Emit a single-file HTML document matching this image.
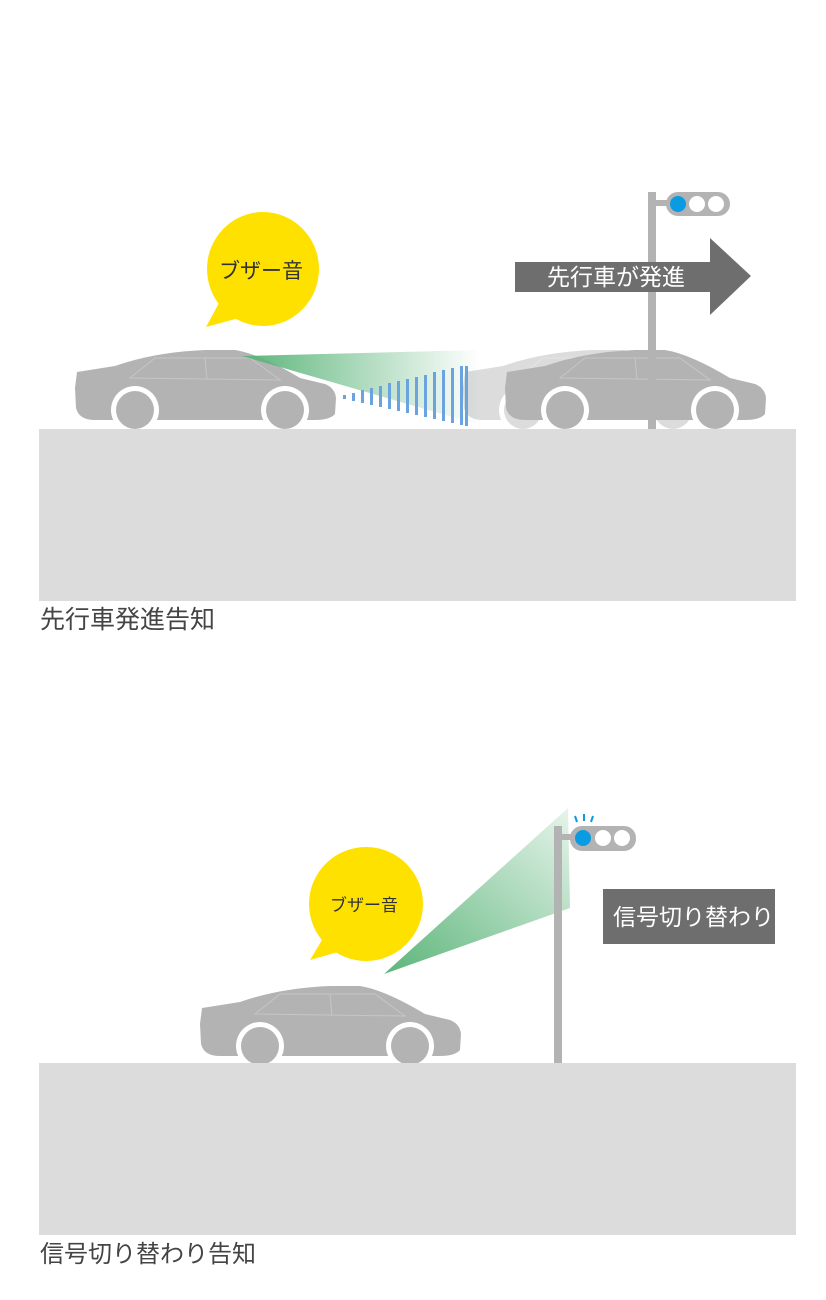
<!DOCTYPE html>
<html><head><meta charset="utf-8"><style>
html,body{margin:0;padding:0;background:#fff;}
svg{display:block}
text{font-family:"Liberation Sans","Noto Sans CJK JP",sans-serif;}
</style></head><body>
<svg width="826" height="1300" viewBox="0 0 826 1300" xmlns="http://www.w3.org/2000/svg">
<defs>
<g id="car">
 <path d="M2,24 L40,18 Q80,4 130,2 L160,2 Q185,6 225,30 L250,36 Q260,40 261,50 L260,66 Q255,72 240,72 L20,72 Q4,72 1,60 L0,40 Z" fill="#b3b3b3"/>
 <circle cx="60" cy="62" r="24" fill="#fff"/><circle cx="60" cy="62" r="19" fill="#b3b3b3"/>
 <circle cx="210" cy="62" r="24" fill="#fff"/><circle cx="210" cy="62" r="19" fill="#b3b3b3"/>
 <path d="M55,30 L80,10 L175,10 L205,32 Z M130,10 L132,32" fill="none" stroke="#c6c6c6" stroke-width="1"/>
</g>
<linearGradient id="g1" x1="0" y1="0" x2="1" y2="0"><stop offset="0" stop-color="#5cb57a"/><stop offset="1" stop-color="#5cb57a" stop-opacity="0"/></linearGradient>
<linearGradient id="g2" x1="0" y1="1" x2="1" y2="0"><stop offset="0" stop-color="#5cb57a"/><stop offset="1" stop-color="#5cb57a" stop-opacity="0.15"/></linearGradient>
</defs>
<!-- panel 1 -->
<rect x="648" y="192" width="8" height="238" fill="#b3b3b3"/>
<rect x="656" y="200" width="12" height="6" fill="#b3b3b3"/>
<rect x="666" y="192" width="64" height="24" rx="12" fill="#b3b3b3"/>
<circle cx="678" cy="204" r="8" fill="#0a9be3"/><circle cx="697" cy="204" r="8" fill="#fff"/><circle cx="716" cy="204" r="8" fill="#fff"/>
<path d="M515,262 L710,262 L710,238 L751,276 L710,315 L710,292 L515,292 Z" fill="#6e6e6e"/>
<text x="547" y="285" font-size="23" fill="#fff">先行車が発進</text>
<ellipse cx="263" cy="269" rx="56" ry="57" fill="#ffe100"/>
<path d="M206,327 L226,290 L250,315 Z" fill="#ffe100"/>
<text x="219" y="278" font-size="21" fill="#333">ブザー音</text>
<g opacity="0.45"><use href="#car" x="463" y="348"/></g>
<use href="#car" x="505" y="348"/>
<rect x="648" y="350" width="8" height="80" fill="#b3b3b3"/>
<use href="#car" x="75" y="348"/>
<path d="M242,356 L480,350 L480,425 Z" fill="url(#g1)"/>
<g fill="#6aa3e0">
<rect x="343" y="395" width="3" height="4"/><rect x="352" y="393" width="3" height="8"/><rect x="361" y="390" width="3" height="13"/><rect x="370" y="388" width="3" height="17"/><rect x="379" y="386" width="3" height="21"/><rect x="388" y="383" width="3" height="26"/><rect x="397" y="381" width="3" height="30"/><rect x="406" y="379" width="3" height="34"/><rect x="415" y="377" width="3" height="38"/><rect x="424" y="375" width="3" height="42"/><rect x="433" y="372" width="3" height="47"/><rect x="442" y="370" width="3" height="51"/><rect x="451" y="368" width="3" height="55"/><rect x="460" y="366" width="3" height="59"/><rect x="465" y="366" width="3" height="60"/>
</g>
<rect x="39" y="429" width="757" height="172" fill="#dcdcdc"/>
<text x="40" y="628" font-size="25" fill="#444">先行車発進告知</text>
<!-- panel 2 -->
<path d="M384,974 L568,808 L570,908 Z" fill="url(#g2)"/>
<rect x="554" y="826" width="8" height="238" fill="#b3b3b3"/>
<rect x="562" y="834" width="12" height="6" fill="#b3b3b3"/>
<rect x="570" y="826" width="66" height="25" rx="12" fill="#b3b3b3"/>
<circle cx="583" cy="838" r="8" fill="#0a9be3"/><circle cx="603" cy="838" r="8" fill="#fff"/><circle cx="622" cy="838" r="8" fill="#fff"/>
<g stroke="#0a9be3" stroke-width="2"><line x1="575" y1="816" x2="577" y2="822"/><line x1="584" y1="814" x2="584" y2="821"/><line x1="593" y1="816" x2="591" y2="822"/></g>
<rect x="603" y="889" width="172" height="55" fill="#6e6e6e"/>
<text x="613" y="925" font-size="23" fill="#fff">信号切り替わり</text>
<ellipse cx="366" cy="904" rx="57" ry="57" fill="#ffe100"/>
<path d="M310,960 L325,935 L345,950 Z" fill="#ffe100"/>
<text x="330" y="911" font-size="17" fill="#333">ブザー音</text>
<use href="#car" x="200" y="984"/>
<rect x="39" y="1063" width="757" height="172" fill="#dcdcdc"/>
<text x="40" y="1262" font-size="24" fill="#444">信号切り替わり告知</text>
</svg>
</body></html>
